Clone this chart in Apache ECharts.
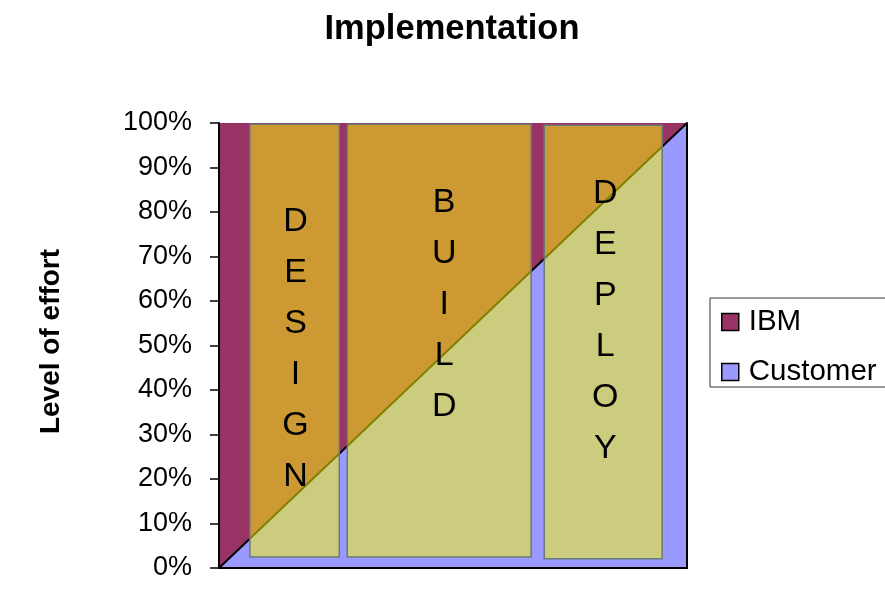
<!DOCTYPE html>
<html><head><meta charset="utf-8">
<script src="https://cdn.jsdelivr.net/npm/echarts@6/dist/echarts.min.js"></script>
<style>html,body{margin:0;padding:0;background:#fff}#c{width:885px;height:604px}</style>
</head><body><div id="c"></div><script>
// ---- data ----
const chartTitle = 'Implementation';
const yAxisName = 'Level of effort';
const timePoints = ['Start', 'End'];    // project timeline
const customerEffort = [0, 100];        // Customer share of effort (%)
const ibmEffort = [100, 0];             // IBM share of effort (%)
const phases = ['DESIGN', 'BUILD', 'DEPLOY'];
const phaseStart = [6.6, 27.4, 69.5];   // project time (%)
const phaseEnd = [25.7, 66.7, 94.7];
const phaseLow = [2.5, 2.5, 2.1];       // effort (%)
const phaseHigh = [99.7, 99.7, 99.5];

// ---- presentation ----
const FONT = 'Liberation Sans';
const labelDx = [1, 5, 2];
const labelDy = [9, -36, -21];

const chart = echarts.init(document.getElementById('c'), null, {renderer: 'canvas'});
const lineBlack = {show: true, lineStyle: {color: '#000', width: 2}};
chart.setOption({
  backgroundColor: '#fff',
  animation: false,
  title: {
    text: chartTitle, left: 447, top: 7, textAlign: 'center',
    textStyle: {fontFamily: FONT, fontSize: 34.5, fontWeight: 'bold', color: '#000'}
  },
  grid: {left: 219, right: 198, top: 123, bottom: 36},
  legend: {
    orient: 'vertical', left: 710, top: 298,
    icon: 'rect', itemWidth: 17, itemHeight: 17, itemGap: 20,
    padding: [9, 20, 0, 11],
    backgroundColor: '#fff', borderColor: '#333', borderWidth: 1,
    textStyle: {fontFamily: FONT, fontSize: 29.5, color: '#000', lineHeight: 30, padding: [0, 0, 0, 5]},
    data: [
      {name: 'IBM', itemStyle: {color: '#993366', borderColor: '#000', borderWidth: 1.5}},
      {name: 'Customer', itemStyle: {color: '#9999FF', borderColor: '#000', borderWidth: 1.5}}
    ]
  },
  xAxis: [
    {type: 'category', data: timePoints, boundaryGap: false, position: 'bottom', z: 10,
     axisLine: lineBlack, axisTick: {show: false}, axisLabel: {show: false}, splitLine: {show: false}},
    {type: 'value', min: 0, max: 100, position: 'top', z: 10,
     axisLine: lineBlack, axisTick: {show: false}, axisLabel: {show: false}, splitLine: {show: false}}
  ],
  yAxis: [
    {type: 'value', min: 0, max: 100, interval: 10, position: 'left', z: 10,
      axisLine: lineBlack, splitLine: {show: false},
      axisTick: {show: true, length: 9, inside: false, lineStyle: {color: '#000', width: 1.5}},
      axisLabel: {formatter: '{value}%', margin: 27, fontFamily: FONT, fontSize: 27, color: '#000'},
      name: yAxisName, nameLocation: 'middle', nameGap: 154, nameRotate: 90,
      nameTextStyle: {fontFamily: FONT, fontSize: 28, fontWeight: 'bold', color: '#000', padding: [0, 0, 0, 8]}
    },
    {type: 'value', min: 0, max: 100, position: 'right', z: 10,
     axisLine: lineBlack, axisTick: {show: false}, axisLabel: {show: false}, splitLine: {show: false}}
  ],
  series: [
    {
      name: 'Customer', type: 'line', stack: 'effort', symbol: 'none', z: 3,
      xAxisIndex: 0, yAxisIndex: 0,
      data: customerEffort,
      itemStyle: {color: '#9999FF'},
      lineStyle: {color: '#000', width: 2},
      areaStyle: {color: '#9999FF', opacity: 1}
    },
    {
      name: 'IBM', type: 'line', stack: 'effort', symbol: 'none', z: 2,
      xAxisIndex: 0, yAxisIndex: 0,
      data: ibmEffort,
      itemStyle: {color: '#993366'},
      lineStyle: {width: 0},
      areaStyle: {color: '#993366', opacity: 1}
    },
    {
      type: 'custom', z: 5, clip: false, silent: true,
      xAxisIndex: 1, yAxisIndex: 0,
      encode: {x: [0, 1], y: [2, 3]},
      data: phases.map((p, i) => [phaseStart[i], phaseEnd[i], phaseLow[i], phaseHigh[i], i]),
      renderItem: function (params, api) {
        const i = api.value(4);
        const p0 = api.coord([api.value(0), api.value(3)]);
        const p1 = api.coord([api.value(1), api.value(2)]);
        const x = p0[0], y = p0[1], w = p1[0] - p0[0], h = p1[1] - p0[1];
        return {
          type: 'group',
          children: [
            {type: 'rect', shape: {x: x, y: y, width: w, height: h},
             style: {fill: 'rgba(255,255,0,0.5)', stroke: '#6b7878', lineWidth: 1.5}},
            {type: 'text', z2: 10, style: {
              text: phases[i].split('').join('\n'),
              x: x + w / 2 + labelDx[i], y: y + h / 2 + labelDy[i],
              align: 'center', verticalAlign: 'middle',
              fontFamily: FONT, fontSize: 34, lineHeight: 51, fill: '#000'
            }}
          ]
        };
      }
    }
  ]
});
</script></body></html>
